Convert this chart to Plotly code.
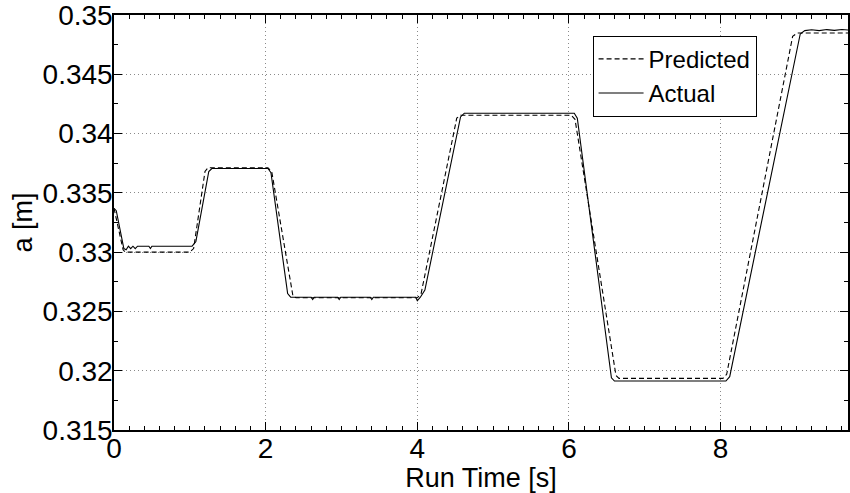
import plotly.graph_objects as go

# Predicted (dashed)
t_pred = [0.0, 0.12, 0.15, 1.00, 1.05, 1.20, 1.24, 2.03, 2.08, 2.36, 2.40, 4.00, 4.05,
          4.52, 4.57, 6.03, 6.08, 6.62, 6.66, 8.03, 8.08, 8.95, 9.01, 9.70]
a_pred = [0.3337, 0.3302, 0.3300, 0.3300, 0.3303, 0.3368, 0.33712, 0.33712, 0.3368,
          0.3263, 0.32615, 0.32615, 0.3265, 0.3413, 0.34155, 0.34155, 0.3412, 0.3196,
          0.31935, 0.31935, 0.3197, 0.3482, 0.34848, 0.34848]

# Actual (solid)
t_act = [0.0, 0.03, 0.13, 0.16, 0.19, 0.22, 0.25, 0.28, 0.31, 0.46, 0.48, 0.50, 1.03,
         1.08, 1.25, 1.29, 2.03, 2.07, 2.29, 2.33, 2.60, 2.62, 2.64, 2.95, 2.97, 2.99,
         3.38, 3.40, 3.42, 3.98, 4.00, 4.04, 4.10, 4.57, 4.62, 6.07, 6.11, 6.56, 6.60,
         8.07, 8.12, 9.05, 9.11, 9.20, 9.30, 9.40, 9.50, 9.60, 9.70]
a_act = [0.3337, 0.3335, 0.3303, 0.3302, 0.3305, 0.3303, 0.3305, 0.3303, 0.3305, 0.3305,
         0.3303, 0.3305, 0.3305, 0.3309, 0.3368, 0.33705, 0.33705, 0.3367, 0.3265, 0.3262,
         0.3262, 0.3260, 0.3262, 0.3262, 0.3260, 0.3262, 0.3262, 0.3260, 0.3262, 0.3262,
         0.3259, 0.3262, 0.3268, 0.3414, 0.34172, 0.34172, 0.3413, 0.3194, 0.31913,
         0.31913, 0.3195, 0.3484, 0.34868, 0.34875, 0.34868, 0.34877, 0.3487, 0.34878,
         0.34872]

x_ticks = [0, 2, 4, 6, 8]
y_ticks = [0.315, 0.32, 0.325, 0.33, 0.335, 0.34, 0.345, 0.35]
y_labels = ["0.315", "0.32", "0.325", "0.33", "0.335", "0.34", "0.345", "0.35"]

FONT = "Liberation Sans, Arial, sans-serif"

fig = go.Figure()
fig.add_trace(go.Scatter(x=t_pred, y=a_pred, mode="lines", name="Predicted",
                         line=dict(color="black", width=1.1, dash="5px,3px")))
fig.add_trace(go.Scatter(x=t_act, y=a_act, mode="lines", name="Actual",
                         line=dict(color="black", width=1.1)))

axis_common = dict(
    showline=True, linecolor="black", linewidth=1.5, mirror="ticks",
    ticks="inside", ticklen=8, tickwidth=1, tickcolor="black",
    showgrid=True, gridcolor="#8a8a8a", griddash="1px,3px", gridwidth=1,
    zeroline=False, tickfont=dict(family=FONT, size=28, color="black"),
    ticklabeloverflow="allow",
)

fig.update_layout(
    width=850, height=493,
    margin=dict(l=114, r=0, t=15, b=63),
    paper_bgcolor="white", plot_bgcolor="white",
    font=dict(family=FONT, size=28, color="black"),
    xaxis=dict(range=[0, 9.68], tickvals=x_ticks, ticktext=[str(v) for v in x_ticks],
               minor=dict(dtick=0.2, tick0=0, ticks="inside", ticklen=4, tickcolor="black", showgrid=False),
               title=dict(text="Run Time [s]", font=dict(family=FONT, size=27), standoff=0),
               ticklabelstandoff=-7,
               **axis_common),
    yaxis=dict(range=[0.315, 0.35], tickvals=y_ticks, ticktext=y_labels,
               minor=dict(dtick=0.0025, tick0=0.315, ticks="inside", ticklen=4, tickcolor="black", showgrid=False),
               title=dict(text="a [m]", font=dict(family=FONT, size=27), standoff=2),
               ticklabelstandoff=-6,
               **axis_common),
    legend=dict(x=0.652, y=0.95, xanchor="left", yanchor="top",
                bgcolor="white", bordercolor="black", borderwidth=1, itemwidth=45,
                font=dict(family=FONT, size=24), tracegroupgap=0),
    showlegend=True,
)

fig.write_html("out.html")
